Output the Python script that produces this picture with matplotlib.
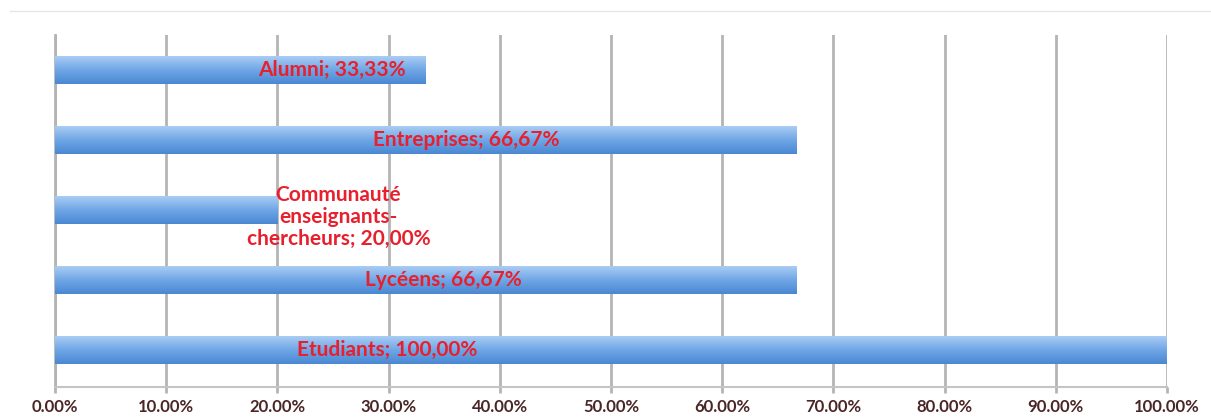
import matplotlib
matplotlib.use("Agg")
import matplotlib.pyplot as plt
import numpy as np
from matplotlib.colors import LinearSegmentedColormap

categories = ["Etudiants", "Lycéens", "Communauté\nenseignants-\nchercheurs", "Entreprises", "Alumni"]
values = [100.00, 66.67, 20.00, 66.67, 33.33]
label_texts = ["Etudiants; 100,00%", "Lycéens; 66,67%", "Communauté\nenseignants-\nchercheurs; 20,00%",
               "Entreprises; 66,67%", "Alumni; 33,33%"]
label_x = [29.9, 34.9, 25.5, 37.0, 24.9]
xticks = [0, 10, 20, 30, 40, 50, 60, 70, 80, 90, 100]
xtick_labels = ["0.00%", "10.00%", "20.00%", "30.00%", "40.00%", "50.00%",
                "60.00%", "70.00%", "80.00%", "90.00%", "100.00%"]

W, H = 1211, 417
fig = plt.figure(figsize=(W / 100, H / 100), dpi=100)
ax = fig.add_axes([55 / W, 1 - 387 / H, (1167 - 55) / W, (387 - 35) / H])

ypos = np.arange(len(categories))
bars = ax.barh(ypos, values, height=0.4, color="none", edgecolor="none", zorder=3)

cmap = LinearSegmentedColormap.from_list("bluegrad", ["#4a88d2", "#6fa6e6", "#a9ccf4"])
grad = np.linspace(0, 1, 64).reshape(-1, 1)
for b in bars:
    x0, y0 = b.get_x(), b.get_y()
    w, h = b.get_width(), b.get_height()
    ax.imshow(grad, cmap=cmap, aspect="auto", extent=(x0, x0 + w, y0, y0 + h),
              origin="lower", zorder=3, interpolation="bilinear")

ax.set_xlim(0, 100)
ax.set_ylim(-0.53, 4.5)
ax.set_xticks(xticks)
ax.set_xticklabels(xtick_labels, fontfamily="Lato", fontweight="bold", fontsize=12, color="#4a2626")
ax.set_yticks([])
ax.grid(axis="x", color="#b4b4b4", linewidth=2, zorder=1)
ax.tick_params(axis="x", length=4, width=2, color="#b4b4b4", pad=5)
for s in ["top", "right"]:
    ax.spines[s].set_visible(False)
ax.spines["left"].set_color("#b4b4b4")
ax.spines["left"].set_linewidth(2)
ax.spines["bottom"].set_color("#c4c4c4")
ax.spines["bottom"].set_linewidth(1.5)

for y, txt, lx in zip(ypos, label_texts, label_x):
    off = -5 if "\n" in txt else 0
    ax.annotate(txt, (lx, y), xytext=(0, off), textcoords="offset points",
                ha="center", va="center", fontfamily="Lato", fontweight="bold",
                fontsize=15, color="#e8202e", zorder=5, linespacing=1.1)

fig.add_artist(plt.Line2D([10 / W, 1.0], [1 - 11 / H, 1 - 11 / H], color="#e6e6e6", linewidth=1))

fig.savefig("out.png", dpi=100)
